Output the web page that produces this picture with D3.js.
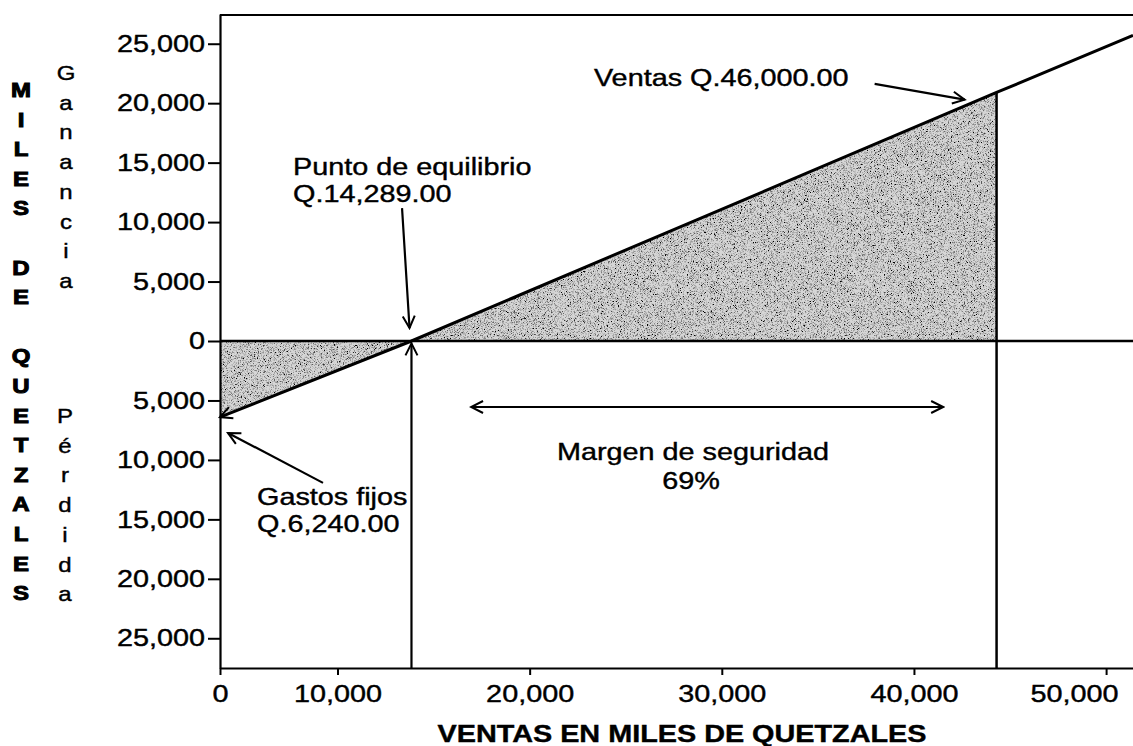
<!DOCTYPE html>
<html>
<head>
<meta charset="utf-8">
<script src="https://cdn.jsdelivr.net/npm/d3@7"></script>
<style>
  body { margin: 0; background: #fff; }
  text { font-family: "Liberation Sans", Arial, sans-serif; fill: #000; stroke: #000; stroke-width: 0.4px; }
</style>
</head>
<body>
<svg id="chart"></svg>
<script>
// valores (miles de quetzales)
var xTicks = [0, 10000, 20000, 30000, 40000, 50000];
var yTicks = [-25000, -20000, -15000, -10000, -5000, 0, 5000, 10000, 15000, 20000, 25000];
var ventas = [0, 13850, 44300, 51400];        // eje x de la recta de resultado
var resultado = [-6400, 0, 20900, 25700];     // ganancia (+) / perdida (-)
var xMax = 51400, yMax = 27500;
var sideTitle = "MILES DE QUETZALES";
var gainWord = "Ganancia", lossWord = "Pérdida";

var W = 1133, H = 746;
var mLeft = 220, mTop = 14, w = W - mLeft, h = 654;
var sx = 1.2; // el texto del original es mas ancho que Arial

var svg = d3.select("#chart").attr("width", W).attr("height", H);
var defs = svg.append("defs");

// punteado gris del area sombreada
var f = defs.append("filter").attr("id", "stipple")
    .attr("x", 0).attr("y", 0).attr("width", 1).attr("height", 1);
f.append("feTurbulence").attr("type", "fractalNoise").attr("baseFrequency", 1.3)
    .attr("numOctaves", 2).attr("seed", 4).attr("result", "n");
f.append("feColorMatrix").attr("in", "n").attr("type", "matrix")
    .attr("values", "0 0 0 0 0  0 0 0 0 0  0 0 0 0 0  3.5 0 0 0 -1.65").attr("result", "d");
f.append("feComposite").attr("in", "d").attr("in2", "SourceGraphic").attr("operator", "in").attr("result", "dc");
var fm = f.append("feMerge");
fm.append("feMergeNode").attr("in", "SourceGraphic");
fm.append("feMergeNode").attr("in", "dc");

defs.append("marker").attr("id", "head")
    .attr("viewBox", "-14 -8 16 16").attr("refX", 0).attr("refY", 0)
    .attr("markerWidth", 16).attr("markerHeight", 16)
    .attr("markerUnits", "userSpaceOnUse").attr("orient", "auto-start-reverse")
  .append("path").attr("d", "M-12,-6L0,0L-12,6")
    .attr("fill", "none").attr("stroke", "#000").attr("stroke-width", 2);

// el tramo 0-10,000 esta comprimido en el original
var x = d3.scaleLinear().domain([0, 10000, xMax]).range([0, 117.5, w]);
var y = d3.scaleLinear().domain([-yMax, yMax]).range([h, 0]);

var g = svg.append("g").attr("transform", "translate(" + mLeft + "," + mTop + ")");

// areas sombreadas
var pts = ventas.map(function(v, i) { return [v, resultado[i]]; });
var gain = [[pts[1][0], 0], pts[2], [pts[2][0], 0]];
var loss = [[pts[0][0], 0], [pts[1][0], 0], pts[0]];
var poly = d3.line().x(function(d) { return x(d[0]); }).y(function(d) { return y(d[1]); });

g.selectAll(".zone").data([gain, loss]).enter().append("path")
    .attr("class", "zone")
    .attr("d", function(d) { return poly(d) + "Z"; })
    .attr("fill", "#d6d6d6")
    .attr("filter", "url(#stipple)");

// ejes
var xAxis = d3.axisBottom(x).tickValues(xTicks).tickSize(7).tickSizeOuter(0).tickPadding(10)
    .tickFormat(d3.format(","));
var yAxis = d3.axisLeft(y).tickValues(yTicks).tickSize(12).tickSizeOuter(0).tickPadding(3)
    .tickFormat(function(d) { return d3.format(",")(Math.abs(d)); });

var gx = g.append("g").attr("transform", "translate(0," + h + ")").call(xAxis);
var gy = g.append("g").call(yAxis);

[gx, gy].forEach(function(a) {
  a.attr("font-family", null).attr("font-size", null);
  a.select(".domain").attr("stroke-width", 2.2);
  a.selectAll(".tick line").attr("stroke-width", 2);
  a.selectAll(".tick text").style("font-size", "24px").attr("fill", "#000")
      .attr("transform", "scale(" + sx + ",1)");
});
gy.selectAll(".tick text").attr("x", -15 / sx);
gx.selectAll(".tick text").attr("x", function(d) { return d === xTicks[xTicks.length - 1] ? -32 / sx : 0; });

// borde superior y linea de cero
g.append("line").attr("x1", 0).attr("x2", w).attr("y1", 1).attr("y2", 1)
    .attr("stroke", "#000").attr("stroke-width", 2);
g.append("line").attr("x1", 0).attr("x2", w).attr("y1", y(0)).attr("y2", y(0))
    .attr("stroke", "#000").attr("stroke-width", 2.5);

// recta de resultado
g.append("path").datum(pts).attr("d", poly)
    .attr("fill", "none").attr("stroke", "#000").attr("stroke-width", 3)
    .attr("marker-start", "url(#head)");

// vertical de ventas
g.append("line").attr("x1", x(pts[2][0])).attr("x2", x(pts[2][0]))
    .attr("y1", y(pts[2][1])).attr("y2", h)
    .attr("stroke", "#000").attr("stroke-width", 2.5);

function arrow(x1, y1, x2, y2, both) {
  g.append("line").attr("x1", x(x1)).attr("y1", y(y1)).attr("x2", x(x2)).attr("y2", y(y2))
      .attr("stroke", "#000").attr("stroke-width", 2.2)
      .attr("marker-end", "url(#head)")
      .attr("marker-start", both ? "url(#head)" : null);
}
arrow(pts[1][0], -yMax, pts[1][0], -200);     // punto de equilibrio (desde abajo)
arrow(13358, 11176, 13748, 1092);             // punto de equilibrio (desde arriba)
arrow(8766, -11933, 681, -7731);              // gastos fijos
arrow(37954, 21630, 42639, 20294);            // ventas
arrow(16950, -5550, 41520, -5550, true);      // margen de seguridad

function label(px, py, str, anchor, size, weight) {
  return svg.append("text")
      .attr("transform", "translate(" + px + "," + py + ") scale(" + sx + ",1)")
      .attr("text-anchor", anchor || "start")
      .style("font-size", (size || 24) + "px")
      .style("font-weight", weight || "normal")
      .text(str);
}
label(594, 86, "Ventas Q.46,000.00");
label(293, 175, "Punto de equilibrio");
label(293, 202, "Q.14,289.00");
label(257, 505, "Gastos fijos");
label(257, 532, "Q.6,240.00");
label(693, 460, "Margen de seguridad", "middle");
label(691, 489, "69%", "middle");
label(682, 742, "VENTAS EN MILES DE QUETZALES", "middle", 24, "bold");

// titulos verticales letra por letra
sideTitle.split("").forEach(function(c, i) {
  label(21, 97 + i * 29.6, c, "middle", 20, "bold").style("stroke-width", "1px");
});
gainWord.split("").forEach(function(c, i) { label(66, 80 + i * 29.7, c, "middle", 20); });
lossWord.split("").forEach(function(c, i) { label(65, 423 + i * 29.7, c, "middle", 20); });
</script>
</body>
</html>
